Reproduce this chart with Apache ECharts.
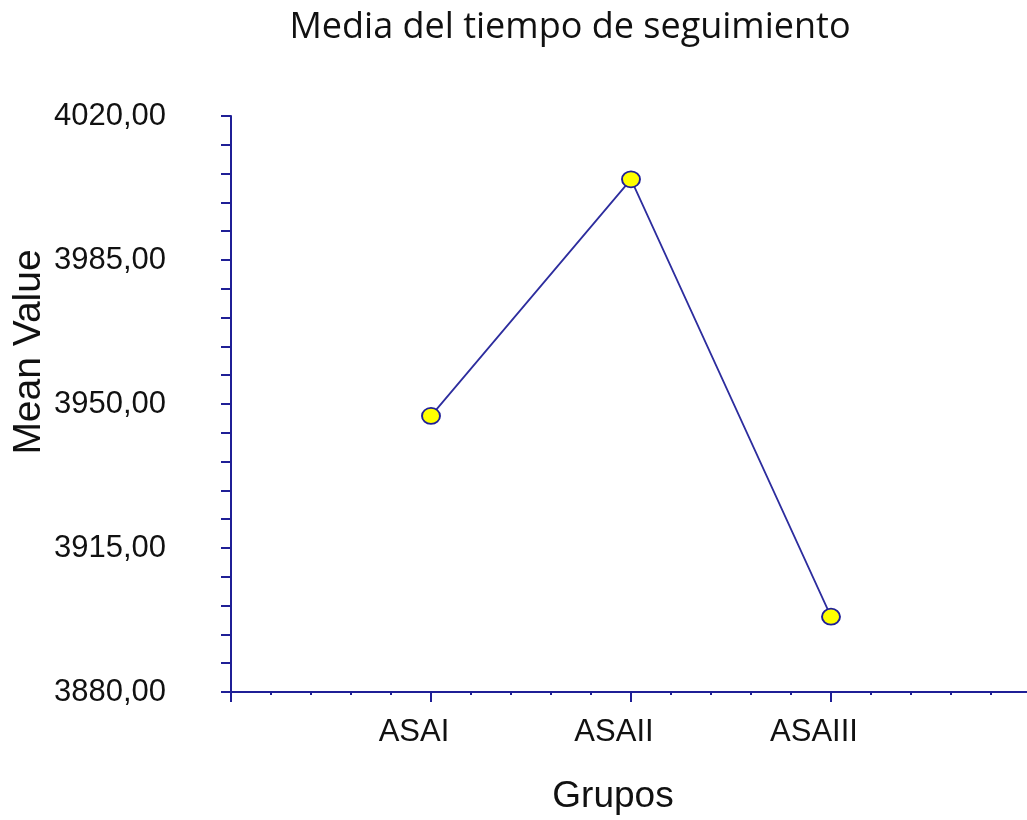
<!DOCTYPE html>
<html>
<head>
<meta charset="utf-8">
<script src="https://cdn.jsdelivr.net/npm/echarts@6/dist/echarts.min.js"></script>
<style>
  html, body { margin: 0; padding: 0; background: #ffffff; }
  #chart { width: 1027px; height: 820px; }
</style>
</head>
<body>
<div id="chart"></div>
<script>
// Groups along the horizontal axis and the mean follow-up time for each
const groups = ['ASAI', 'ASAII', 'ASAIII'];
const meanValues = [3947.1, 4004.6, 3898.3];
// Vertical axis range and labelled step
const yMin = 3880;
const yMax = 4020;
const yStep = 35;

// Groups sit at positions 1..n on a 0..n+1 scale, leaving an empty slot at each end
const points = groups.map((g, i) => [i + 1, meanValues[i]]);

const navy = '#1f1f96';
const chart = echarts.init(document.getElementById('chart'), null, { renderer: 'canvas' });

chart.setOption({
  backgroundColor: '#ffffff',
  animation: false,
  title: {
    text: 'Media del tiempo de seguimiento',
    left: 565,
    top: 5,
    textAlign: 'center',
    textStyle: {
      fontFamily: '"Open Sans", sans-serif',
      fontWeight: 'normal',
      fontSize: 36,
      color: '#111111'
    }
  },
  grid: {
    left: 231, width: 800, top: 116, height: 576,
    containLabel: false,
    outerBoundsMode: 'none'
  },
  xAxis: {
    type: 'value',
    min: 0,
    max: groups.length + 1,
    interval: 1,
    name: 'Grupos',
    nameLocation: 'middle',
    nameGap: 86,
    nameMoveOverlap: false,
    nameTextStyle: {
      fontFamily: '"Liberation Sans", Arial, sans-serif',
      fontSize: 37,
      color: '#111111',
      padding: [0, 36, 0, 0]
    },
    splitLine: { show: false },
    axisLine: { show: true, lineStyle: { color: navy, width: 2 } },
    axisTick: { show: true, inside: false, length: 10, lineStyle: { color: navy, width: 2 } },
    minorTick: { show: true, splitNumber: 5, length: 3, lineStyle: { color: navy, width: 2 } },
    minorSplitLine: { show: false },
    axisLabel: {
      margin: 25,
      fontFamily: '"Liberation Sans", Arial, sans-serif',
      fontSize: 31,
      color: '#111111',
      padding: [0, 34, 0, 0],
      formatter: (v) => groups[Math.round(v) - 1] || ''
    }
  },
  yAxis: {
    type: 'value',
    min: yMin,
    max: yMax,
    interval: yStep,
    name: 'Mean Value',
    nameLocation: 'middle',
    nameRotate: 90,
    nameGap: 182,
    nameMoveOverlap: false,
    nameTextStyle: {
      fontFamily: '"Liberation Sans", Arial, sans-serif',
      fontSize: 39,
      color: '#111111',
      padding: [0, 0, 0, 104]
    },
    splitLine: { show: false },
    axisLine: { show: true, lineStyle: { color: navy, width: 2 } },
    axisTick: { show: true, inside: false, length: 10, lineStyle: { color: navy, width: 2 } },
    minorTick: { show: true, splitNumber: 5, length: 10, lineStyle: { color: navy, width: 2 } },
    minorSplitLine: { show: false },
    axisLabel: {
      margin: 65,
      fontFamily: '"Liberation Sans", Arial, sans-serif',
      fontSize: 31,
      color: '#111111',
      formatter: (v) => v.toFixed(2).replace('.', ',')
    }
  },
  series: [{
    type: 'line',
    data: points,
    symbol: 'circle',
    symbolSize: [18, 16],
    lineStyle: { color: '#2d2d9e', width: 1.8 },
    itemStyle: { color: '#ffff00', borderColor: '#1f1f96', borderWidth: 1.8 },
    z: 3
  }]
});
</script>
</body>
</html>
